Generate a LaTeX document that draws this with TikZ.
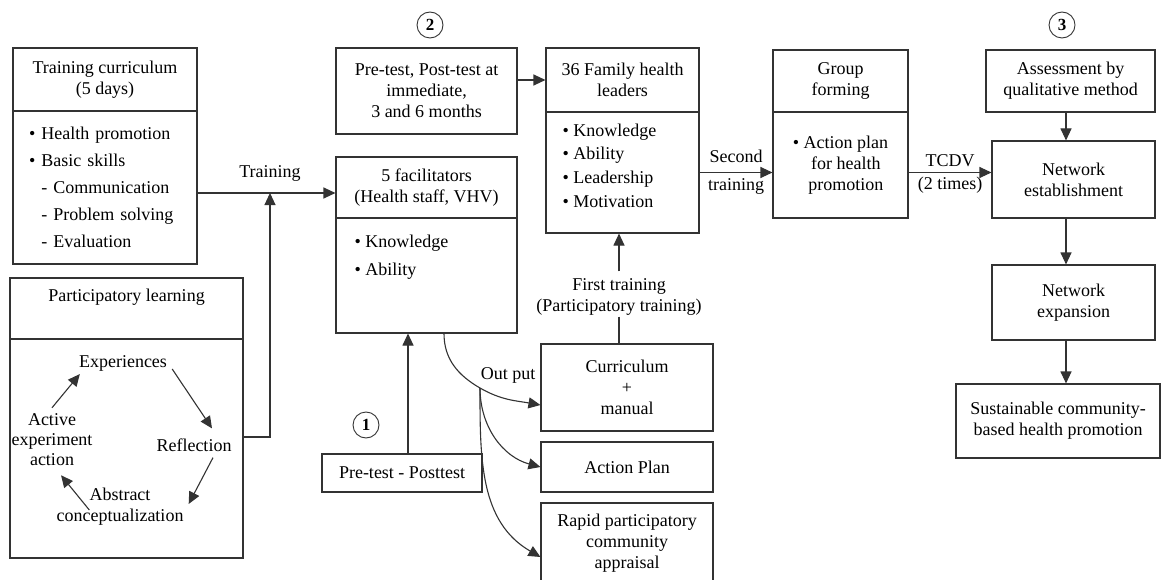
\documentclass[tikz,border=0pt]{standalone}
\usepackage{fontspec}
\setmainfont{Liberation Serif}
\usetikzlibrary{arrows.meta,positioning}
\newcommand{\itm}{\textbullet\ }
\begin{document}
\begin{tikzpicture}[x=1pt,y=-1pt,
    box/.style ={draw=black!80, line width=1.1pt, align=center, inner sep=2pt, font=\fontsize{18}{21}\selectfont},
    txt/.style ={align=center, inner sep=1pt, font=\fontsize{18}{21}\selectfont},
    list/.style ={align=left, inner sep=0pt},
    num/.style ={circle, draw=black!80, line width=0.9pt, inner sep=0pt, minimum size=26pt, font=\fontsize{17}{17}\selectfont\bfseries},
    arr/.style ={draw=black!80, line width=1.1pt, -{Triangle[length=12pt,width=11pt]}},
    lin/.style ={draw=black!80, line width=1.1pt}]
   \useasboundingbox (0,0) rectangle (1161,580);

   \node[box, minimum width=184, minimum height=63] (tcT) at (105,79.5) {Training curriculum\\(5 days)};
   \node[box, minimum width=184, minimum height=153, align=left, text width=152, font=\fontsize{18}{27}\selectfont] (tcB) at (105,187.5)
     {\itm Health promotion\\\itm Basic skills\\\hphantom{\itm}- Communication\\\hphantom{\itm}- Problem solving\\\hphantom{\itm}- Evaluation};
   \node[box, minimum width=233, minimum height=61] (plT) at (126.5,308.5) {};
   \node[txt] (plL) at (126.5,297) {Participatory learning};
   \node[box, minimum width=233, minimum height=219] (plB) at (126.5,448.5) {};
   \node[txt] (exp) at (123,363) {Experiences};
   \node[txt] (refl) at (194,445) {Reflection};
   \node[txt] (abs) at (120,507) {Abstract\\conceptualization};
   \node[txt, font=\fontsize{18}{20}\selectfont] (act) at (52,440) {Active\\experiment\\action};
   \draw[arr] ([shift={(4,6)}]exp.east) -- ([shift={(18,-9)}]refl.north);
   \draw[arr] ([shift={(19,5)}]refl.south) -- ([shift={(4,-3)}]abs.east);
   \draw[arr] ([shift={(34,3)}]abs.west) -- ([shift={(9,8)}]act.south);
   \draw[arr] ([shift={(0,-5)}]act.north) -- ([shift={(2,2)}]exp.south west);

   \node[num] (n2) at (430,25) {2};
   \node[box, minimum width=181, minimum height=86] (ptT) at (426.5,91) {Pre-test, Post-test at\\immediate,\\3 and 6 months};
   \node[box, minimum width=181, minimum height=61] (fcT) at (426.5,187.5) {5 facilitators\\(Health staff, VHV)};
   \node[box, minimum width=181, minimum height=115] (fcB) at (426.5,275.5) {};
   \node[list, anchor=north west, font=\fontsize{18}{28}\selectfont] (fcL) at ([shift={(19,16)}]fcT.south west) {\itm Knowledge\\\itm Ability};
   \node[num] (n1) at (366,425) {1};
   \node[box, minimum width=160, minimum height=38] (pp) at (402,473) {Pre-test - Posttest};
   \draw[arr] ([shift={(6,0)}]pp.north) -- ([shift={(6,0)}]pp.north |- fcB.south);

   \coordinate (tj) at (270,193);
   \draw[arr] ([shift={(0,-11.5)}]plB.east) -| (tj);
   \draw[arr] (tcB.east |- tj) -- (fcT.west |- tj);
   \node[txt, above=10pt] (trl) at (tj) {Training};

   \node[box, minimum width=153, minimum height=64] (famT) at (622.5,80) {36 Family health\\leaders};
   \node[box, minimum width=153, minimum height=121] (famB) at (622.5,172.5) {};
   \node[list, anchor=north west, font=\fontsize{18}{23.7}\selectfont] (famL) at ([shift={(17,11)}]famT.south west)
     {\itm Knowledge\\\itm Ability\\\itm Leadership\\\itm Motivation};
   \draw[arr] (ptT.east |- famT.west) -- (famT.west);
   \node[txt] (ftl) at (619,297) {First training\\(Participatory training)};
   \draw[arr] ([shift={(0,-6)}]ftl.north) -- (ftl.north |- famB.south);

   \node[box, minimum width=172, minimum height=87] (cur) at (627,387.5) {Curriculum\\+\\manual};
   \node[box, minimum width=172, minimum height=50] (ap) at (627,467) {Action Plan};
   \node[box, minimum width=172, minimum height=80] (rpa) at (627,543) {Rapid participatory\\community\\appraisal};
   \draw[lin] (ftl.south) -- (ftl.south |- cur.north);

   \coordinate (br) at (480,388);
   \draw[lin] ([shift={(17.5,0)}]fcB.south) to[out=-90, in=150] (br);
   \draw[arr] (br) to[out=-30, in=170] ([shift={(0,17.5)}]cur.west);
   \draw[arr] (br) to[out=-90, in=165] (ap.west);
   \draw[arr] (br) to[out=-90, in=150] ([shift={(0,14)}]rpa.west);
   \node[txt] (outl) at (508,375) {Out put};

   \node[box, minimum width=135, minimum height=62] (gfT) at (840.5,81) {Group\\forming};
   \node[box, minimum width=135, minimum height=106] (gfB) at (840.5,165)
     {\itm\begin{tabular}[t]{@{}c@{}}Action plan\\for health\\promotion\end{tabular}};
   \draw[arr] (famB.east) -- (famB.east -| gfB.west)
     node[txt, midway, above=8pt] (stl) {Second} node[txt, midway, below=5pt] (stl2) {training};

   \node[num] (n3) at (1062,25) {3};
   \node[box, minimum width=169, minimum height=62] (as) at (1070.5,81) {Assessment by\\qualitative method};
   \node[box, minimum width=163, minimum height=77] (ne) at (1073.5,179.5) {Network\\establishment};
   \node[box, minimum width=163, minimum height=75] (nx) at (1073.5,302.5) {Network\\expansion};
   \node[box, minimum width=204, minimum height=74] (sus) at (1058,421) {Sustainable community-\\based health promotion};
   \draw[arr] (gfB.east |- famB.east) -- (famB.east -| ne.west)
     node[txt, midway, above=4pt] (tcdv) {TCDV} node[txt, midway, below=3pt] (tms) {(2 times)};
   \draw[arr] ([shift={(-4.5,0)}]as.south) -- ([shift={(-4.5,0)}]as.south |- ne.north);
   \draw[arr] ([shift={(-7.5,0)}]ne.south) -- ([shift={(-7.5,0)}]nx.north);
   \draw[arr] ([shift={(-7.5,0)}]nx.south) -- ([shift={(-7.5,0)}]nx.south |- sus.north);
 \end{tikzpicture}
\end{document}
